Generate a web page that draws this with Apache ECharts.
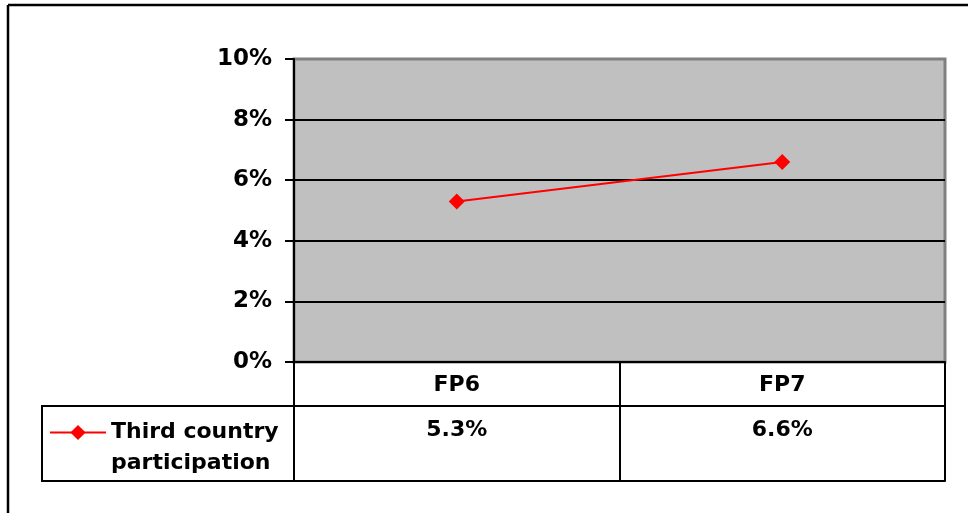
<!DOCTYPE html>
<html>
<head>
<meta charset="utf-8">
<script src="https://cdn.jsdelivr.net/npm/echarts@6/dist/echarts.min.js"></script>
<style>
html,body{margin:0;padding:0;background:#fff;}
#chart{width:968px;height:513px;}
</style>
</head>
<body>
<div id="chart"></div>
<script>
const categories = ['FP6', 'FP7'];
const seriesName = 'Third country participation';
const participation = [5.3, 6.6];
const yMin = 0, yMax = 10, yStep = 2;

const FONT = 'DejaVu Sans';
const GL = 294, GR = 945, GT = 59, GB = 362;
const W = 968, H = 513;

const chart = echarts.init(document.getElementById('chart'), null, {renderer: 'canvas'});
const valueLabels = participation.map(v => v.toFixed(1) + '%');

chart.setOption({
  animation: false,
  backgroundColor: '#ffffff',
  textStyle: {fontFamily: FONT},
  grid: {
    left: GL, right: W - GR, top: GT, bottom: H - GB,
    show: true, backgroundColor: '#c0c0c0', borderColor: '#808080', borderWidth: 3
  },
  legend: {
    data: [seriesName],
    left: 49, top: 386, padding: 0,
    itemWidth: 56, itemHeight: 19,
    formatter: () => ' \nThird country\nparticipation',
    textStyle: {fontFamily: FONT, fontWeight: 'bold', fontSize: 22, color: '#000', lineHeight: 31}
  },
  xAxis: [
    {
      type: 'category', data: categories, position: 'bottom',
      axisLine: {show: true, lineStyle: {color: '#000', width: 2}},
      axisTick: {show: true, alignWithLabel: false, length: 119, lineStyle: {color: '#000', width: 2}},
      axisLabel: {fontFamily: FONT, fontWeight: 'bold', fontSize: 22, color: '#000', margin: 12},
      splitLine: {show: false}
    },
    {
      type: 'category', data: categories, position: 'bottom', offset: 44,
      axisLine: {show: true, lineStyle: {color: '#000', width: 2}},
      axisTick: {show: false},
      axisLabel: {fontFamily: FONT, fontWeight: 'bold', fontSize: 22, color: '#000', margin: 13,
        formatter: (v, i) => valueLabels[i]},
      splitLine: {show: false}
    },
    {
      type: 'category', data: categories, position: 'bottom', offset: 119,
      axisLine: {show: true, lineStyle: {color: '#000', width: 2}},
      axisTick: {show: false}, axisLabel: {show: false}, splitLine: {show: false}
    }
  ],
  yAxis: {
    type: 'value', min: yMin, max: yMax, interval: yStep,
    axisLine: {show: true, lineStyle: {color: '#000', width: 2}},
    axisTick: {show: true, inside: false, length: 9, lineStyle: {color: '#000', width: 2}},
    axisLabel: {fontFamily: FONT, fontWeight: 'bold', fontSize: 23, color: '#000', margin: 22, formatter: '{value}%'},
    splitLine: {show: true, showMaxLine: false, lineStyle: {color: '#000', width: 2}}
  },
  series: [{
    name: seriesName, type: 'line', data: participation,
    symbol: 'diamond', symbolSize: 16,
    itemStyle: {color: '#ff0000'},
    lineStyle: {color: '#ff0000', width: 2}
  }],
  graphic: [
    {type: 'rect', shape: {x: 42, y: GB + 44, width: GL - 42, height: 75}, style: {fill: null, stroke: '#000', lineWidth: 2}, z: 10},
    {type: 'line', shape: {x1: 8, y1: 5, x2: W, y2: 5}, style: {stroke: '#000', lineWidth: 2.5}},
    {type: 'line', shape: {x1: 8, y1: 5, x2: 8, y2: H}, style: {stroke: '#000', lineWidth: 2.5}}
  ]
});
</script>
</body>
</html>
